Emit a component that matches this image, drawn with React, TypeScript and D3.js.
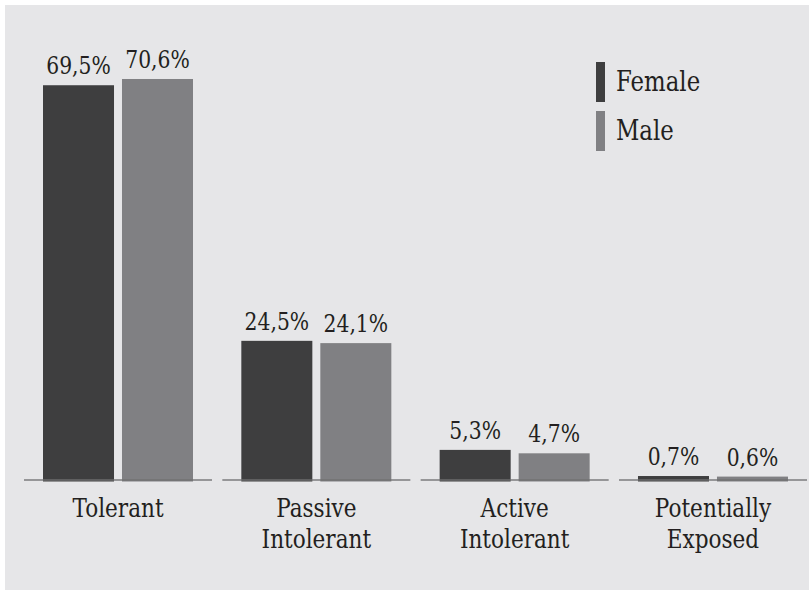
import React from "react";
import * as d3 from "d3";

const categories: string[][] = [["Tolerant"], ["Passive", "Intolerant"], ["Active", "Intolerant"], ["Potentially", "Exposed"]];
const categoryKeys = ["Tolerant", "Passive Intolerant", "Active Intolerant", "Potentially Exposed"];
const seriesNames = ["Female", "Male"];
const femaleValues = [69.5, 24.5, 5.3, 0.7];
const maleValues = [70.6, 24.1, 4.7, 0.6];
const femaleLabels = ["69,5%", "24,5%", "5,3%", "0,7%"];
const maleLabels = ["70,6%", "24,1%", "4,7%", "0,6%"];
const seriesColors = ["#3e3e3f", "#808083"];

const W = 809;
const H = 590;
const BASE = 480;
const FONT = '"DejaVu Serif", serif';
const TEXT = "#231f20";
const SX = 0.83;

export default function App() {
  const x0 = d3.scaleBand<string>().domain(categoryKeys).range([24, 807]).paddingInner(0.052).paddingOuter(0);
  const x1 = d3.scaleBand<string>().domain(seriesNames).range([19, 169]).paddingInner(0.101).paddingOuter(0);
  const y = d3.scaleLinear().domain([0, 75]).range([BASE, BASE - 75 * 5.68]);
  const series = [
    { name: seriesNames[0], values: femaleValues, labels: femaleLabels, color: seriesColors[0] },
    { name: seriesNames[1], values: maleValues, labels: maleLabels, color: seriesColors[1] },
  ];
  const ts = { fontFamily: FONT };
  return (
    <svg width={W} height={H} style={{ position: "absolute", left: 0, top: 0 }}>
      <rect x={0} y={0} width={W} height={H} fill="#ffffff" />
      <rect x={5} y={5} width={W - 5} height={H - 5} fill="#e6e6e8" />
      {categoryKeys.map((c, i) => (
        <g key={c} transform={`translate(${x0(c)},0)`}>
          {series.map((s) => {
            const bx = x1(s.name)!;
            const bw = x1.bandwidth();
            const top = y(s.values[i]);
            return (
              <g key={s.name}>
                <rect x={bx} y={top} width={bw} height={BASE + 1.5 - top} fill={s.color} />
                <text
                  transform={`translate(${bx + bw / 2},${top - 11}) scale(${SX},1)`}
                  textAnchor="middle"
                  fontSize={24.5}
                  fill={TEXT}
                  style={ts}
                >
                  {s.labels[i]}
                </text>
              </g>
            );
          })}
          <line x1={0} x2={x0.bandwidth()} y1={BASE} y2={BASE} stroke="#6f6f71" strokeWidth={1.6} strokeOpacity={0.9} />
          <g transform={`translate(${x0.bandwidth() / 2},0) scale(${SX},1)`}>
            <text textAnchor="middle" fontSize={26} fill={TEXT} style={ts}>
              {categories[i].map((line, j) => (
                <tspan key={j} x={0} y={517 + j * 31}>
                  {line}
                </tspan>
              ))}
            </text>
          </g>
        </g>
      ))}
      {series.map((s, i) => (
        <g key={s.name} transform={`translate(596,${62 + i * 49})`}>
          <rect x={0} y={0} width={9} height={40} fill={s.color} />
          <text transform={`translate(20,29) scale(${SX},1)`} fontSize={27.5} fill={TEXT} style={ts}>
            {s.name}
          </text>
        </g>
      ))}
    </svg>
  );
}
